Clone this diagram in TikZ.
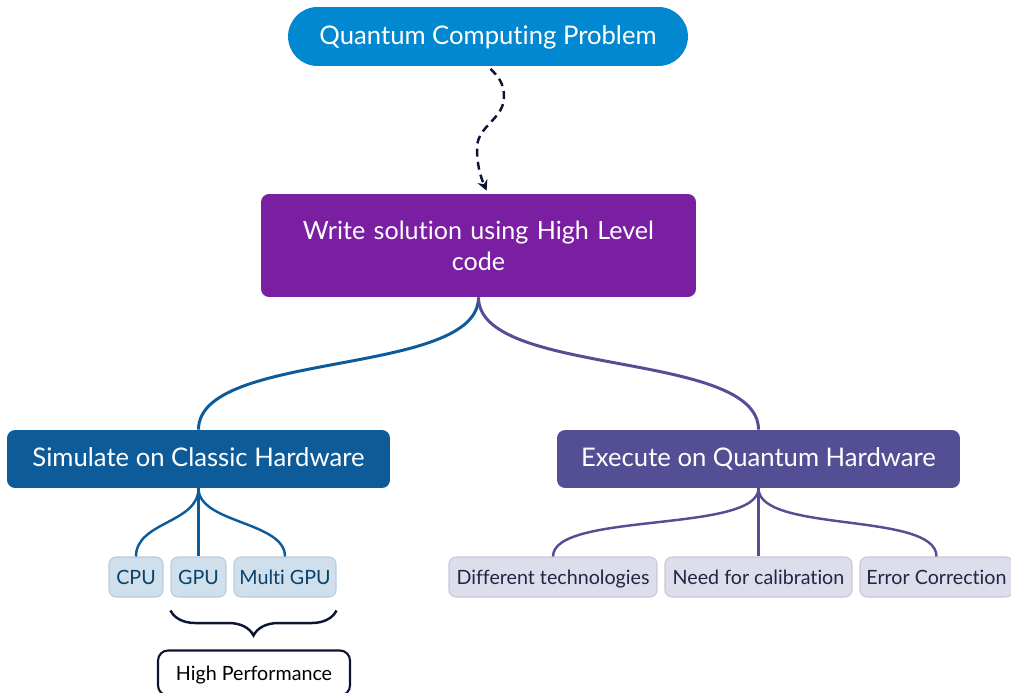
\documentclass[tikz,border=0pt]{standalone}
\usepackage{fontspec}
\setmainfont{Lato}[Ligatures=NoCommon]
\usetikzlibrary{arrows.meta,decorations.pathreplacing}
\definecolor{qblue}{RGB}{2,136,209}
\definecolor{wpurple}{RGB}{123,31,162}
\definecolor{sblue}{RGB}{13,92,153}
\definecolor{epurple}{RGB}{84,79,148}
\definecolor{lblue}{RGB}{207,224,236}
\definecolor{lblueline}{RGB}{182,204,222}
\definecolor{lpurple}{RGB}{222,221,236}
\definecolor{lpurpleline}{RGB}{200,198,220}
\definecolor{navy}{RGB}{14,20,52}
\tikzset{
	box/.style={rounded corners=0.16cm, text=white, inner sep=0pt, font=\fontsize{14.6}{17.5}\selectfont},
	oneline/.style={text height=1.9ex, text depth=0.2ex},
	leaf/.style={draw, rounded corners=0.14cm, minimum height=0.8cm, inner sep=0pt, line width=0.6pt, oneline, font=\fontsize{11.2}{13}\selectfont},
	branch/.style={line width=1.7pt},
	twig/.style={line width=1.4pt},
	flow/.style={navy, line width=1.4pt, dash pattern=on 4.5pt off 3pt, -{Stealth[length=6pt,width=6pt]}, shorten <=2pt, shorten >=2pt}
}
\begin{document}
\begin{tikzpicture}[x=0.02cm,y=-0.02cm]
\useasboundingbox (0,0) rectangle (1011,693);
\node[box,oneline,fill=qblue,rounded corners=0.59cm,minimum width=8cm,minimum height=1.18cm] (qcp) at (488,36.5) {Quantum Computing Problem};
\node[box,fill=wpurple,minimum width=8.7cm,minimum height=2.06cm,text width=7.8cm,align=center,font=\fontsize{14.3}{17.5}\selectfont] (write) at (478.5,245.5) {Write solution using High Level\\code};
\node[box,oneline,fill=sblue,minimum width=7.66cm,minimum height=1.16cm] (sim) at (198.5,459) {Simulate on Classic Hardware};
\node[box,oneline,fill=epurple,minimum width=8.06cm,minimum height=1.16cm] (exe) at (758.5,459) {Execute on Quantum Hardware};
\coordinate (bend1) at (504,97);
\coordinate (bend2) at (477,148);
\coordinate (wtop) at (488,194);
\draw[flow] (qcp.south) .. controls +(10,10) and +(0,-14) .. (bend1) .. controls +(0,22) and +(0,-22) .. (bend2) .. controls +(0,20) and +(-6,-14) .. (wtop);
\draw[branch,sblue] (write.south) .. controls +(0,80) and +(0,-80) .. (sim.north);
\draw[branch,epurple] (write.south) .. controls +(0,80) and +(0,-80) .. (exe.north);
\foreach \nm/\x/\w/\txt in {cpu/136/1.08/CPU, gpu/198.5/1.1/GPU, mgpu/285/2.04/Multi GPU}
{
	\node[leaf,fill=lblue,draw=lblueline,text=sblue!70!black,minimum width=\w cm] (\nm) at (\x,577) {\txt};
	\draw[twig,sblue] (sim.south) .. controls +(0,35) and +(0,-35) .. (\nm.north);
}
\foreach \nm/\x/\w/\txt in {dtech/553/4.16/Different technologies, calib/758.5/3.74/Need for calibration, errc/936.5/3.06/Error Correction}
{
	\node[leaf,fill=lpurple,draw=lpurpleline,text=epurple!45!black,minimum width=\w cm] (\nm) at (\x,577) {\txt};
	\draw[twig,epurple] (exe.south) .. controls +(0,45) and +(0,-45) .. (\nm.north);
}
\draw[navy,line width=1.4pt,decorate,decoration={brace,mirror,amplitude=0.5cm}] ([yshift=-0.26cm]gpu.south west) -- ([yshift=-0.26cm]mgpu.south east);
\node[draw=navy,line width=1.2pt,rounded corners=0.2cm,fill=white,minimum width=3.84cm,minimum height=0.9cm,inner sep=0pt,oneline,font=\fontsize{11.2}{13}\selectfont] (hperf) at (254,673) {High Performance};
\end{tikzpicture}
\end{document}
